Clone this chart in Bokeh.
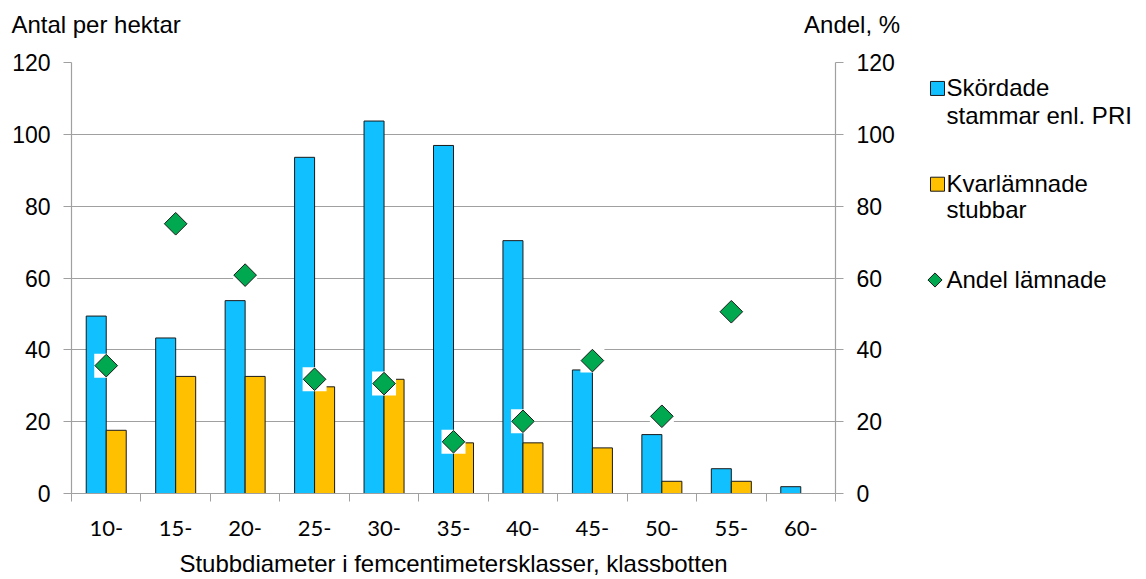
import math
import numpy as np
from bokeh.plotting import figure
from bokeh.models import Range1d, LinearAxis, FixedTicker, Label, ColumnDataSource
from bokeh.layouts import row
from bokeh.embed import file_html
from bokeh.resources import INLINE

# Diameter classes (lower bound, cm) and values
classes = ["10-", "15-", "20-", "25-", "30-", "35-", "40-", "45-", "50-", "55-", "60-"]
harvested = [49.4, 43.3, 53.7, 93.6, 103.7, 96.9, 70.4, 34.4, 16.4, 6.9, 1.9]   # Skördade stammar enl. PRI
left_stumps = [17.6, 32.6, 32.6, 29.7, 31.8, 14.1, 14.1, 12.7, 3.4, 3.4, 0.0]   # Kvarlämnade stubbar
share_left = [35.6, 75.1, 60.8, 31.8, 30.6, 14.4, 20.1, 37.0, 21.5, 50.6, float("nan")]  # Andel lämnade, %
y_ticks = [0, 20, 40, 60, 80, 100, 120]

BLUE = "#10C0FF"
ORANGE = "#FFC000"
GREEN = "#00A850"
GRID = "#A0A0A0"
FONT = "Liberation Sans"
FS = "24px"
TICK_FS = "23px"

n = len(classes)
centers = np.arange(n) + 0.5
bar_w = 0.288

src = ColumnDataSource(dict(
    xb=centers - bar_w / 2,
    xo=centers + bar_w / 2,
    xc=centers,
    harvested=harvested,
    left_stumps=left_stumps,
    share=share_left,
))

W, H = 920, 579
LEFT, RIGHT, TOP, BOTTOM = 71, 85, 62, 85
FRAME_W = W - LEFT - RIGHT

p = figure(width=W, height=H, x_range=Range1d(0, n), y_range=Range1d(0, 120),
           output_backend="svg", toolbar_location=None,
           min_border_left=LEFT, min_border_right=RIGHT, min_border_top=TOP, min_border_bottom=BOTTOM)
p.outline_line_color = None
p.background_fill_color = "white"
p.border_fill_color = "white"
p.extra_y_ranges = {"pct": Range1d(0, 120)}
p.extra_x_ranges = {"px": Range1d(0, FRAME_W)}

# grid
p.xgrid.visible = False
p.ygrid.ticker = FixedTicker(ticks=y_ticks)
p.ygrid.grid_line_color = GRID
p.ygrid.grid_line_width = 1.2

# bottom axis: labels at class centres, tick marks at class borders
xa = p.xaxis[0]
xa.ticker = FixedTicker(ticks=list(centers), minor_ticks=list(range(n + 1)))
xa.major_label_overrides = {float(c): lab for c, lab in zip(centers, classes)}
xa.major_tick_out = 0
xa.major_tick_in = 0
xa.minor_tick_out = 8
xa.minor_tick_in = 0
xa.minor_tick_line_color = GRID
xa.axis_line_color = GRID
xa.axis_line_width = 1.2
xa.major_label_text_font = "Lato"
xa.major_label_text_font_size = "22px"
xa.major_label_text_color = "black"
xa.major_label_standoff = 19
xa.axis_label = "Stubbdiameter i femcentimetersklasser, klassbotten"
xa.axis_label_text_font = FONT
xa.axis_label_text_font_size = FS
xa.axis_label_text_font_style = "normal"
xa.axis_label_text_color = "black"
xa.axis_label_standoff = 11

# left and right value axes
ya = p.yaxis[0]
ra = LinearAxis(y_range_name="pct")
p.add_layout(ra, "right")
for ax in (ya, ra):
    ax.ticker = FixedTicker(ticks=y_ticks)
    ax.major_tick_out = 8
    ax.major_tick_in = 0
    ax.minor_tick_out = 0
    ax.minor_tick_in = 0
    ax.major_tick_line_color = GRID
    ax.axis_line_color = GRID
    ax.axis_line_width = 1.2
    ax.major_label_text_font = FONT
    ax.major_label_text_font_size = TICK_FS
    ax.major_label_text_color = "black"
    ax.major_label_standoff = 13

# value-axis titles, written as the labels of a bare axis above the plot area
# (positions in pixels from the left edge of the plot area)
title_pos = [24.6, FRAME_W - 0.1]
title_txt = ["Antal per hektar", "\u00a0" * 5 + "Andel, %"]
ta = LinearAxis(x_range_name="px")
ta.ticker = FixedTicker(ticks=title_pos)
ta.major_label_overrides = dict(zip(title_pos, title_txt))
ta.axis_line_color = None
ta.major_tick_line_color = None
ta.minor_tick_line_color = None
ta.major_tick_out = 0
ta.major_tick_in = 0
ta.minor_tick_out = 0
ta.minor_tick_in = 0
ta.major_label_standoff = 25
ta.major_label_text_font = FONT
ta.major_label_text_font_size = FS
ta.major_label_text_color = "black"
p.add_layout(ta, "above")

# bars
p.vbar(x="xb", top="harvested", width=bar_w, bottom=0, source=src,
       fill_color=BLUE, line_color="#1a1a1a", line_width=1)
p.vbar(x="xo", top="left_stumps", width=bar_w, bottom=0, source=src,
       fill_color=ORANGE, line_color="#1a1a1a", line_width=1)

# share markers with their white backing square
p.scatter(x="xc", y="share", source=src, y_range_name="pct", marker="square",
          size=24, fill_color="white", line_color=None)
p.scatter(x="xc", y="share", source=src, y_range_name="pct", marker="square",
          angle=math.pi / 4, size=16, fill_color=GREEN, line_color="#1a1a1a", line_width=1)

# legend panel (frame rows aligned with the chart: screen y 62..494)
lg = figure(width=1146 - W, height=H, x_range=Range1d(W, 1146), y_range=Range1d(H - BOTTOM, TOP),
            output_backend="svg", toolbar_location=None, x_axis_type=None, y_axis_type=None,
            min_border_left=0, min_border_right=0, min_border_top=TOP, min_border_bottom=BOTTOM)
lg.outline_line_color = None
lg.grid.visible = False
lg.scatter(x=[937], y=[88], marker="square", size=14, fill_color=BLUE, line_color="#1a1a1a")
lg.scatter(x=[937], y=[184], marker="square", size=14, fill_color=ORANGE, line_color="#1a1a1a")
lg.scatter(x=[934.5], y=[280], marker="square", angle=math.pi / 4, size=10,
           fill_color=GREEN, line_color="#1a1a1a")
legend_lines = [("Skördade", 87), ("stammar enl. PRI", 115), ("Kvarlämnade", 183),
                ("stubbar", 209), ("Andel lämnade", 280)]
for txt, yy in legend_lines:
    lg.add_layout(Label(x=946, y=yy, text=txt, text_align="left", text_baseline="middle",
                        text_font=FONT, text_font_size=FS, text_color="black"))

layout = row(p, lg, spacing=0)
open("out.html", "w").write(file_html(layout, INLINE))
